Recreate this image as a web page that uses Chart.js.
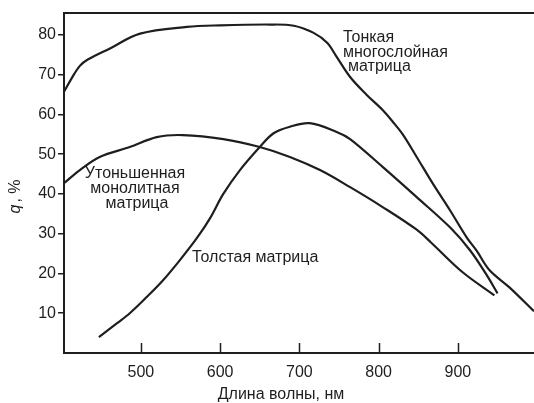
<!DOCTYPE html>
<html>
<head>
<meta charset="utf-8">
<script src="https://cdn.jsdelivr.net/npm/chart.js@4.4.1/dist/chart.umd.min.js"></script>
<style>
  body { margin: 0; background: #fff; }
  canvas { display: block; }
</style>
</head>
<body>
<canvas id="myChart" width="534" height="403"></canvas>
<script>
// Тонкая многослойная матрица
const thinWl = [403, 413, 423, 433, 461, 499, 558, 600, 663, 693, 718, 735, 746, 764, 785, 805, 818, 831, 848, 868, 890, 911, 924, 940, 965, 996];
const thinQ  = [65.7, 69.2, 72.2, 73.8, 76.6, 80.3, 82.0, 82.4, 82.6, 82.3, 80.5, 78.0, 74.8, 69.4, 64.9, 61.1, 58.1, 54.8, 49.3, 42.7, 35.9, 29.1, 25.6, 20.8, 16.5, 10.5];

// Утоньшенная монолитная матрица
const monoWl = [403, 423, 448, 486, 520, 553, 604, 650, 688, 726, 764, 805, 848, 866, 906, 946];
const monoQ  = [42.7, 46.0, 49.3, 51.8, 54.3, 54.8, 53.8, 51.8, 49.3, 46.0, 41.7, 36.7, 31.0, 27.8, 20.3, 14.5];

// Толстая матрица
const thickWl = [447, 470, 486, 507, 528, 549, 571, 587, 604, 625, 650, 667, 688, 713, 747, 764, 805, 848, 890, 915, 935, 950];
const thickQ  = [4.0, 7.5, 10.0, 14.0, 18.3, 23.3, 29.0, 33.8, 40.0, 46.0, 51.8, 55.2, 56.9, 57.8, 55.6, 53.8, 46.8, 39.2, 31.6, 25.9, 20.0, 15.0];

const xTicks = [500, 600, 700, 800, 900];
const yTicks = [10, 20, 30, 40, 50, 60, 70, 80];

const ink = '#1e1e1e';

function toPoints(xs, ys) {
    return xs.map(function(x, i) {
        return { x: x, y: ys[i] };
    });
}

function lineSet(xs, ys) {
    return {
        data: toPoints(xs, ys),
        borderColor: ink,
        borderWidth: 2.2,
        pointRadius: 0,
        tension: 0.35,
        fill: false
    };
}

// рамка сверху, внутренние засечки по оси x, подписи кривых и осей
const decor = {
    id: 'decor',
    afterDraw(chart) {
        const ctx = chart.ctx;
        const area = chart.chartArea;
        const xs = chart.scales.x;
        ctx.save();
        ctx.strokeStyle = ink;
        ctx.lineWidth = 2;
        ctx.beginPath();
        ctx.moveTo(area.left - 1, area.top);
        ctx.lineTo(area.right, area.top);
        ctx.stroke();

        ctx.lineWidth = 1.5;
        xTicks.forEach(function(v) {
            const px = Math.round(xs.getPixelForValue(v)) + 0.5;
            ctx.beginPath();
            ctx.moveTo(px, area.bottom);
            ctx.lineTo(px, area.bottom - 10);
            ctx.stroke();
        });

        ctx.fillStyle = ink;
        ctx.font = '16px "Liberation Sans", Arial, sans-serif';
        ctx.textBaseline = 'alphabetic';
        ctx.textAlign = 'left';
        ctx.fillText('Тонкая', 343, 42);
        ctx.fillText('многослойная', 343, 57);
        ctx.fillText('матрица', 348, 71);

        ctx.textAlign = 'center';
        ctx.fillText('Утоньшенная', 135, 178);
        ctx.fillText('монолитная', 135, 193);
        ctx.fillText('матрица', 137, 208);

        ctx.textAlign = 'left';
        ctx.fillText('Толстая матрица', 192, 262);

        ctx.textAlign = 'center';
        ctx.fillText('Длина волны, нм', 281, 399);

        ctx.translate(20, 196);
        ctx.rotate(-Math.PI / 2);
        ctx.textAlign = 'center';
        ctx.font = 'italic 16px "Liberation Sans", Arial, sans-serif';
        ctx.fillText('q', -13, 0);
        ctx.font = '16px "Liberation Sans", Arial, sans-serif';
        ctx.fillText(', %', 5, 0);
        ctx.restore();
    }
};

const ctx = document.getElementById('myChart').getContext('2d');

new Chart(ctx, {
    type: 'line',
    data: {
        datasets: [
            lineSet(thinWl, thinQ),
            lineSet(monoWl, monoQ),
            lineSet(thickWl, thickQ)
        ]
    },
    options: {
        responsive: false,
        animation: false,
        layout: { padding: { top: 13, left: 0, right: 0, bottom: 0 } },
        scales: {
            x: {
                type: 'linear',
                min: 403,
                max: 996,
                afterBuildTicks: function(scale) {
                    scale.ticks = xTicks.map(function(v) { return { value: v }; });
                },
                afterFit: function(scale) { scale.height = 50; },
                grid: { drawOnChartArea: false, drawTicks: false },
                border: { color: ink, width: 2 },
                ticks: {
                    color: ink,
                    padding: 10,
                    maxRotation: 0,
                    font: { family: '"Liberation Sans", Arial, sans-serif', size: 16 }
                }
            },
            y: {
                min: 0,
                max: 85.5,
                afterBuildTicks: function(scale) {
                    scale.ticks = yTicks.map(function(v) { return { value: v }; });
                },
                afterFit: function(scale) { scale.width = 64; },
                grid: { drawOnChartArea: false, drawTicks: true, tickLength: 6, color: ink, lineWidth: 1.5 },
                border: { color: ink, width: 2 },
                ticks: {
                    color: ink,
                    padding: 2,
                    font: { family: '"Liberation Sans", Arial, sans-serif', size: 16 }
                }
            }
        },
        plugins: {
            legend: { display: false },
            tooltip: { enabled: false }
        }
    },
    plugins: [decor]
});
</script>
</body>
</html>
